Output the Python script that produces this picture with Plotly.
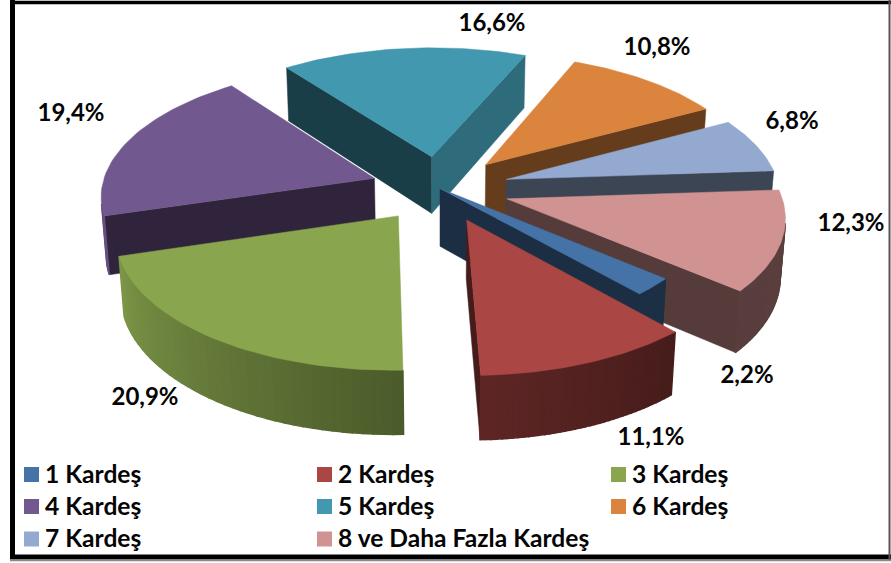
import numpy as np
import plotly.graph_objects as go

labels = ["1 Kardeş", "2 Kardeş", "3 Kardeş", "4 Kardeş", "5 Kardeş", "6 Kardeş", "7 Kardeş", "8 ve Daha Fazla Kardeş"]
values = [2.2, 11.1, 20.9, 19.4, 16.6, 10.8, 6.8, 12.3]
value_text = ["2,2%", "11,1%", "20,9%", "19,4%", "16,6%", "10,8%", "6,8%", "12,3%"]
colors = ["#4572a7", "#aa4643", "#89a54e", "#71588f", "#4198af", "#db843d", "#93a9cf", "#d19392"]
explode = [0.0, 0.25, 0.25, 0.25, 0.25, 0.25, 0.25, 0.25]
label_x = [747, 651, 145, 71, 492, 657, 792, 851]
label_y = [377, 439, 399, 115, 25, 49, 123, 225]
legend_x = [24, 317, 611, 24, 317, 611, 24, 317]
legend_y = [474.5, 474.5, 474.5, 506.5, 506.5, 506.5, 539, 539]

FIRST_ANGLE = 130.3
ELEV = np.radians(27.8)
DIST, FOCAL = 7.3, 2060.0
CX, CY = 440.0, 188.5
X_SCALE = 0.987
RADIUS = 0.98
HEIGHT = 0.235
FONT = "Lato"


def project(X, Y, Z):
    X, Y, Z = np.asarray(X, float), np.asarray(Y, float), np.asarray(Z, float)
    yc = Y * np.sin(ELEV) + Z * np.cos(ELEV)
    zc = DIST + Y * np.cos(ELEV) - Z * np.sin(ELEV)
    return CX + X_SCALE * FOCAL * X / zc, CY - FOCAL * yc / zc


def shade(col, f):
    r, g, b = [int(col[i:i + 2], 16) for i in (1, 3, 5)]
    return "rgb(%d,%d,%d)" % (r * f, g * f, b * f)


def flat_factor(psi):
    return float(np.interp(psi % 360, [100, 125, 150, 165, 360], [0.75, 0.68, 0.47, 0.41, 0.41]))


def outer_factor(phi):
    return float(np.interp(phi % 360, [90, 140, 180, 255, 300], [0.44, 0.42, 0.56, 0.92, 0.5]))


fig = go.Figure()


def poly(xs, ys, col, lw=0.5):
    fig.add_trace(go.Scatter(x=xs, y=ys, mode="lines", fill="toself", fillcolor=col,
                             line=dict(color=col, width=lw), hoverinfo="skip", showlegend=False))


fracs = np.array(values) / sum(values) * 360
starts = FIRST_ANGLE + np.concatenate([[0], np.cumsum(fracs)[:-1]])
ends = starts + fracs
mids = np.radians((starts + ends) / 2)
order = np.argsort(-np.cos(mids))
cam_y = -DIST * np.cos(ELEV)

for i in order:
    a0, a1 = starts[i], ends[i]
    ax, ay = explode[i] * np.sin(mids[i]), explode[i] * np.cos(mids[i])
    phis = np.linspace(a0, a1, 41)
    rad = np.radians(phis)
    px, py = ax + RADIUS * np.sin(rad), ay + RADIUS * np.cos(rad)
    # flat cut walls
    for ang, sgn in ((a0, -1), (a1, 1)):
        r = np.radians(ang)
        nx, ny = sgn * np.cos(r), -sgn * np.sin(r)
        if nx * (0 - ax) + ny * (cam_y - ay) > 0:
            ex, ey = ax + RADIUS * np.sin(r), ay + RADIUS * np.cos(r)
            xs, ys = project([ax, ex, ex, ax, ax], [ay, ey, ey, ay, ay], [0, 0, -HEIGHT, -HEIGHT, 0])
            poly(xs, ys, shade(colors[i], flat_factor(np.degrees(np.arctan2(nx, ny)))))
    # curved outer wall in strips
    for j in range(len(phis) - 1):
        m = (rad[j] + rad[j + 1]) / 2
        if np.sin(m) * (0 - px[j]) + np.cos(m) * (cam_y - py[j]) > 0:
            xs, ys = project([px[j], px[j + 1], px[j + 1], px[j], px[j]],
                             [py[j], py[j + 1], py[j + 1], py[j], py[j]],
                             [0, 0, -HEIGHT, -HEIGHT, 0])
            poly(xs, ys, shade(colors[i], outer_factor(np.degrees(m))), lw=1.5)
    # top
    xs, ys = project(np.r_[ax, px, ax], np.r_[ay, py, ay], np.zeros(len(px) + 2))
    poly(xs, ys, colors[i])

fig.add_trace(go.Scatter(x=label_x, y=label_y, mode="text", text=value_text, textposition="middle center",
                         textfont=dict(family=FONT, size=24, color="#050505", weight="bold"), hoverinfo="skip", showlegend=False))
fig.add_trace(go.Scatter(x=[v + 7.5 for v in legend_x], y=legend_y, mode="markers",
                         marker=dict(symbol="square", size=15, color=colors, line=dict(width=0)),
                         hoverinfo="skip", showlegend=False))
fig.add_trace(go.Scatter(x=[v + 21 for v in legend_x], y=[v + 2 for v in legend_y], mode="text", text=labels,
                         textposition="middle right",
                         textfont=dict(family=FONT, size=24.6, color="#050505", weight="bold"), hoverinfo="skip", showlegend=False))

frame = [(12.5, 0, 12.5, 559, 5, "black"), (10, 2.5, 891, 2.5, 3.5, "black"), (10, 557, 891, 557, 5, "black"),
         (889.5, 0, 889.5, 560, 2, "#555555"), (10, 560.5, 891, 560.5, 1.5, "#8a8a8a")]
for x0, y0, x1, y1, w, c in frame:
    fig.add_shape(type="line", x0=x0, y0=y0, x1=x1, y1=y1, line=dict(color=c, width=w), layer="above")

fig.update_layout(width=891, height=563, margin=dict(l=0, r=0, t=0, b=0), paper_bgcolor="white", plot_bgcolor="white",
                  showlegend=False,
                  xaxis=dict(range=[0, 891], visible=False, fixedrange=True),
                  yaxis=dict(range=[563, 0], visible=False, fixedrange=True))
fig.write_html("out.html", config=dict(displayModeBar=False),
               post_script="document.body.style.margin='0';document.documentElement.style.overflow='hidden';")
